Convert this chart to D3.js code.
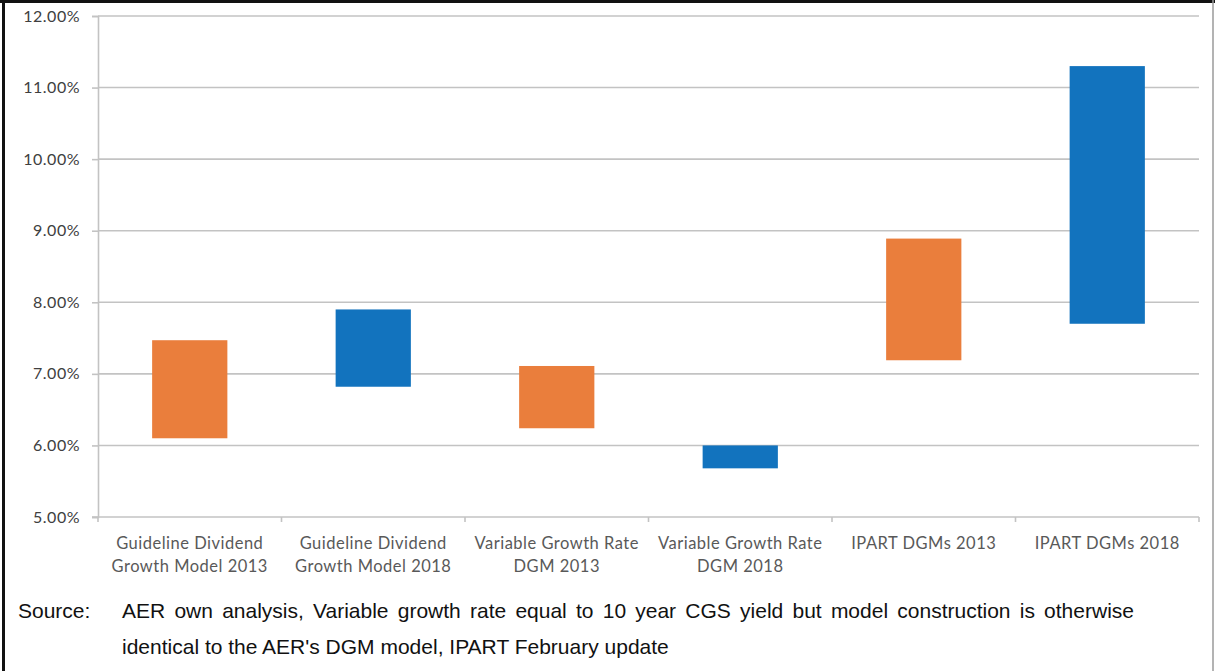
<!DOCTYPE html>
<html>
<head>
<meta charset="utf-8">
<script src="https://cdn.jsdelivr.net/npm/d3@7"></script>
<style>
  html, body { margin: 0; padding: 0; background: #fff; }
  svg { display: block; }
</style>
</head>
<body>
<svg id="chart" width="1215" height="671"></svg>
<script>
// Ranges of cost-of-equity estimates from each dividend growth model
const categories = [
  ["Guideline Dividend", "Growth Model 2013"],
  ["Guideline Dividend", "Growth Model 2018"],
  ["Variable Growth Rate", "DGM 2013"],
  ["Variable Growth Rate", "DGM 2018"],
  ["IPART DGMs 2013"],
  ["IPART DGMs 2018"]
];
const lowValues  = [6.10, 6.82, 6.24, 5.68, 7.19, 7.70];
const highValues = [7.47, 7.90, 7.11, 6.00, 8.89, 11.30];
const vintage    = ["2013", "2018", "2013", "2018", "2013", "2018"];
const yTicks     = [5, 6, 7, 8, 9, 10, 11, 12];
const sourceLine1 = "AER own analysis, Variable growth rate equal to 10 year CGS yield but model construction is otherwise";
const sourceLine2 = "identical to the AER's DGM model, IPART February update";

const colours = { "2013": "#EA7E3C", "2018": "#1273BE" };

const svg = d3.select("#chart");
const plot = { left: 98, right: 1199, top: 16, bottom: 517 };
const labelFont = "Lato, 'Open Sans', sans-serif";
const noteFont = "'Liberation Sans', Arial, sans-serif";

// Page frame
svg.append("line").attr("x1", 3.5).attr("x2", 3.5).attr("y1", 0).attr("y2", 671)
  .attr("stroke", "#111").attr("stroke-width", 3);
svg.append("line").attr("x1", 0).attr("x2", 1215).attr("y1", 1.5).attr("y2", 1.5)
  .attr("stroke", "#111").attr("stroke-width", 3);
svg.append("line").attr("x1", 1213).attr("x2", 1213).attr("y1", 0).attr("y2", 671)
  .attr("stroke", "#9a9a9a").attr("stroke-width", 1.5);

const x = d3.scaleBand()
  .domain(d3.range(categories.length))
  .range([plot.left, plot.right])
  .padding(0);

const y = d3.scaleLinear().domain([5, 12]).range([plot.bottom, plot.top]);

// Horizontal gridlines
svg.append("g").selectAll("line")
  .data(yTicks.filter(t => t > 5))
  .join("line")
  .attr("x1", plot.left).attr("x2", plot.right)
  .attr("y1", d => y(d)).attr("y2", d => y(d))
  .attr("stroke", "#c3c3c3").attr("stroke-width", 1.6);

// Y axis
const yAxis = svg.append("g")
  .attr("transform", `translate(${plot.left},0)`)
  .call(d3.axisLeft(y).tickValues(yTicks).tickSize(6).tickPadding(12)
    .tickFormat(d => d3.format(".2f")(d) + "%"));
yAxis.select(".domain").attr("stroke", "#c3c3c3").attr("stroke-width", 1.6);
yAxis.selectAll(".tick line").attr("stroke", "#c3c3c3").attr("stroke-width", 1.6);
yAxis.selectAll(".tick text")
  .attr("fill", "#404040")
  .style("font-family", labelFont)
  .style("font-size", "16px")
  .style("letter-spacing", "0.5px");

// X axis line with category boundary ticks
svg.append("line")
  .attr("x1", plot.left - 6).attr("x2", plot.right)
  .attr("y1", plot.bottom).attr("y2", plot.bottom)
  .attr("stroke", "#c3c3c3").attr("stroke-width", 1.6);
svg.append("g").selectAll("line")
  .data(d3.range(categories.length + 1))
  .join("line")
  .attr("x1", i => plot.left + i * x.step()).attr("x2", i => plot.left + i * x.step())
  .attr("y1", plot.bottom).attr("y2", plot.bottom + 5)
  .attr("stroke", "#c3c3c3").attr("stroke-width", 1.6);

// Floating bars from low to high estimate
const barWidth = x.step() * 0.41;
svg.append("g").selectAll("rect")
  .data(d3.range(categories.length))
  .join("rect")
  .attr("x", i => x(i) + (x.bandwidth() - barWidth) / 2)
  .attr("width", barWidth)
  .attr("y", i => y(highValues[i]))
  .attr("height", i => y(lowValues[i]) - y(highValues[i]))
  .attr("fill", i => colours[vintage[i]]);

// Category labels
const labels = svg.append("g").selectAll("text")
  .data(d3.range(categories.length))
  .join("text")
  .attr("x", i => x(i) + x.bandwidth() / 2)
  .attr("y", 549)
  .attr("text-anchor", "middle")
  .attr("fill", "#595959")
  .style("font-family", labelFont)
  .style("font-size", "16.5px")
  .style("letter-spacing", "0.5px");
labels.selectAll("tspan")
  .data(i => categories[i].map(t => ({ t, cx: x(i) + x.bandwidth() / 2 })))
  .join("tspan")
  .attr("x", d => d.cx)
  .attr("dy", (d, k) => k === 0 ? 0 : 23)
  .text(d => d.t);

// Source note
svg.append("text")
  .attr("x", 18).attr("y", 618)
  .attr("fill", "#111")
  .style("font-family", noteFont).style("font-size", "21px")
  .text("Source:");

// First line justified between the indent and the right margin
function justified(str, x0, x1, yPos) {
  const words = str.split(" ");
  const g = svg.append("g");
  const widths = words.map(w => {
    const t = g.append("text").style("font-family", noteFont).style("font-size", "21px").text(w);
    const wd = t.node().getComputedTextLength();
    t.remove();
    return wd;
  });
  const gap = (x1 - x0 - d3.sum(widths)) / (words.length - 1);
  let cx = x0;
  words.forEach((w, k) => {
    g.append("text").attr("x", cx).attr("y", yPos)
      .attr("fill", "#111")
      .style("font-family", noteFont).style("font-size", "21px")
      .text(w);
    cx += widths[k] + gap;
  });
}
justified(sourceLine1, 122, 1134, 618);
svg.append("text")
  .attr("x", 122).attr("y", 654)
  .attr("fill", "#111")
  .style("font-family", noteFont).style("font-size", "21px")
  .text(sourceLine2);
</script>
</body>
</html>
